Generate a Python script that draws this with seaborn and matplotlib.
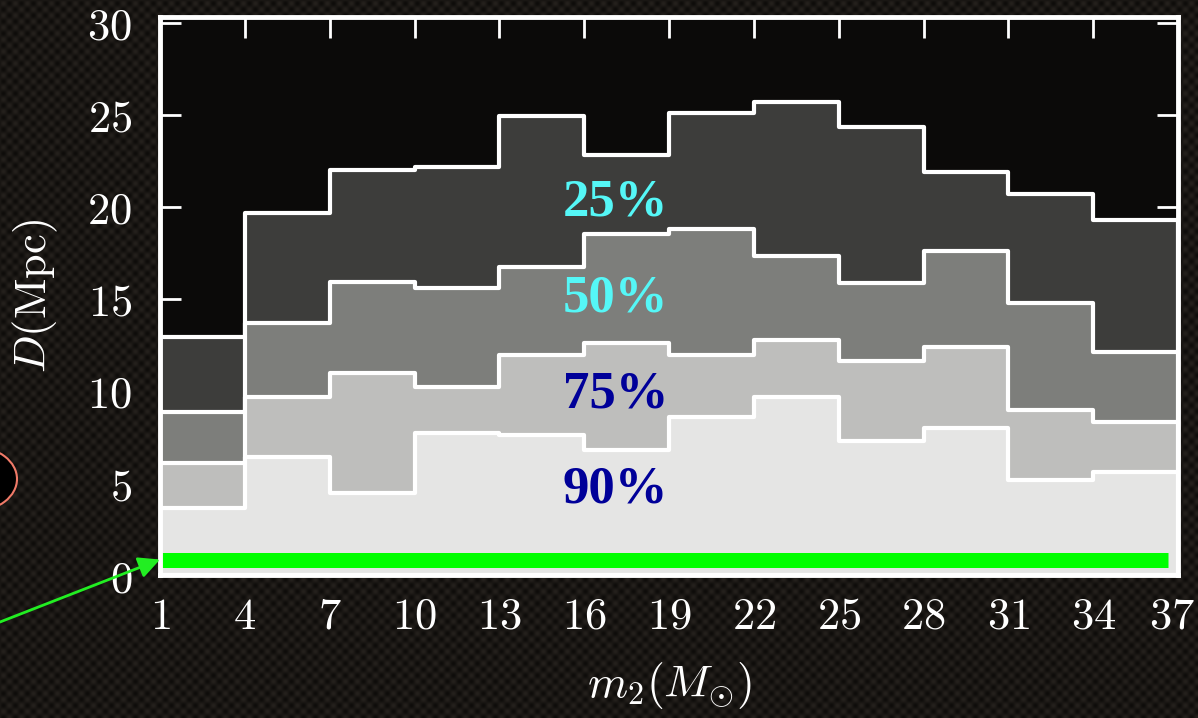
import numpy as np
import matplotlib
matplotlib.use("Agg")
import matplotlib.pyplot as plt
from matplotlib.patches import Ellipse
from matplotlib.transforms import ScaledTranslation
import seaborn as sns

# ---- data ----
bin_edges = [1, 4, 7, 10, 13, 16, 19, 22, 25, 28, 31, 34, 37]
d25 = [12.9, 19.65, 22.0, 22.15, 24.9, 22.8, 25.1, 25.7, 24.3, 21.9, 20.7, 19.3]
d50 = [8.85, 13.7, 15.9, 15.6, 16.7, 18.5, 18.8, 17.3, 15.85, 17.6, 14.75, 12.1]
d75 = [6.1, 9.65, 10.95, 10.2, 11.95, 12.6, 11.95, 12.75, 11.6, 12.4, 8.95, 8.3]
d90 = [3.65, 6.4, 4.45, 7.7, 7.6, 6.8, 8.6, 9.65, 7.3, 8.0, 5.15, 5.6]
levels = ["25%", "50%", "75%", "90%"]
level_label_y = [20.25, 15.0, 9.8, 4.65]
level_label_x = 17.1
x_ticks = [1, 4, 7, 10, 13, 16, 19, 22, 25, 28, 31, 34, 37]
y_ticks = [0, 5, 10, 15, 20, 25, 30]
green_x = [1, 36.65]
green_y = [0.84, 0.84]

fills = ["#3d3d3b", "#7d7e7b", "#bebebc", "#e5e5e4"]
label_colors = ["#55f7f7", "#55f7f7", "#000099", "#000099"]

sns.set_theme(style="white")
plt.rcParams["mathtext.fontset"] = "cm"
plt.rcParams["font.family"] = ["DejaVu Serif"]

fig = plt.figure(figsize=(11.98, 7.18), dpi=100)
fig.patch.set_facecolor("#161310")

# subtle woven background texture (decorative)
H, W = 718, 1198
yy, xx = np.mgrid[0:H, 0:W]
pat = 0.5 + 0.45 * np.sin(xx * 2 * np.pi / 12.0) * np.sin(yy * 2 * np.pi / 12.0)
base = np.array([0x0d, 0x0b, 0x09]) / 255.0
hi = np.array([0x26, 0x22, 0x1e]) / 255.0
img = base[None, None, :] + (hi - base)[None, None, :] * pat[:, :, None]
fig.figimage(img, xo=0, yo=0, origin="upper", zorder=-5)

ax = fig.add_axes([160 / 1198, 1 - 575 / 718, (1178 - 160) / 1198, (575 - 17) / 718])
ax.set_zorder(2)
ax.set_facecolor("#0b0a09")

centers = [(bin_edges[i] + bin_edges[i + 1]) / 2 for i in range(len(bin_edges) - 1)]
for vals, col in zip([d25, d50, d75, d90], fills):
    sns.histplot(x=centers, weights=vals, bins=bin_edges, element="step", fill=True,
                 color=col, alpha=1, edgecolor="white", linewidth=3, ax=ax)

ax.plot(green_x, green_y, color="#00ff00", lw=10.8, solid_capstyle="butt", zorder=6)

for lab, ly, lc in zip(levels, level_label_y, label_colors):
    ax.text(level_label_x, ly, lab, color=lc, fontsize=38, fontweight="bold",
            family=["Liberation Serif"], ha="center", va="center", zorder=7)

ax.set_xlim(1, 37)
ax.set_ylim(0, 30.3)
ax.set_xticks(x_ticks)
ax.set_xticklabels([f"${v}$" for v in x_ticks])
ax.set_yticks(y_ticks)
ax.set_yticklabels([f"${v}$" for v in y_ticks])
ax.tick_params(axis="both", which="both", direction="in", length=15, width=2,
               color="white", labelcolor="white", labelsize=32,
               top=True, right=True, bottom=True, left=True, pad=20, zorder=8)
ax.tick_params(axis="x", pad=14)
for s in ax.spines.values():
    s.set_color("white")
    s.set_linewidth(3.5)
    s.set_zorder(9)

# nudge the last x tick label slightly inward, as in the reference
last = ax.get_xticklabels()[-1]
last.set_transform(last.get_transform() + ScaledTranslation(-6 / 100, 0, fig.dpi_scale_trans))

ax.set_xlabel(r"$m_2(M_{\odot})$", color="white", fontsize=33, labelpad=16)
ax.set_ylabel(r"$D(\mathrm{Mpc})$", color="white", fontsize=32, labelpad=20)

# decorative annotation: red ellipse and green arrow
ell = Ellipse((-0.25, (718 - 479) / 100), 0.84, 0.64, transform=fig.dpi_scale_trans,
              facecolor="black", edgecolor="#f07a68", lw=1.5, zorder=3)
fig.add_artist(ell)

ax.annotate("", xy=(1, green_y[0]), xycoords="data",
            xytext=(0, 718 - 622), textcoords="figure pixels",
            arrowprops=dict(arrowstyle="-|>", color="#22ee22", lw=2, mutation_scale=32,
                            shrinkA=0, shrinkB=0),
            annotation_clip=False, zorder=10)

fig.savefig("out.png", dpi=100, facecolor=fig.get_facecolor())
